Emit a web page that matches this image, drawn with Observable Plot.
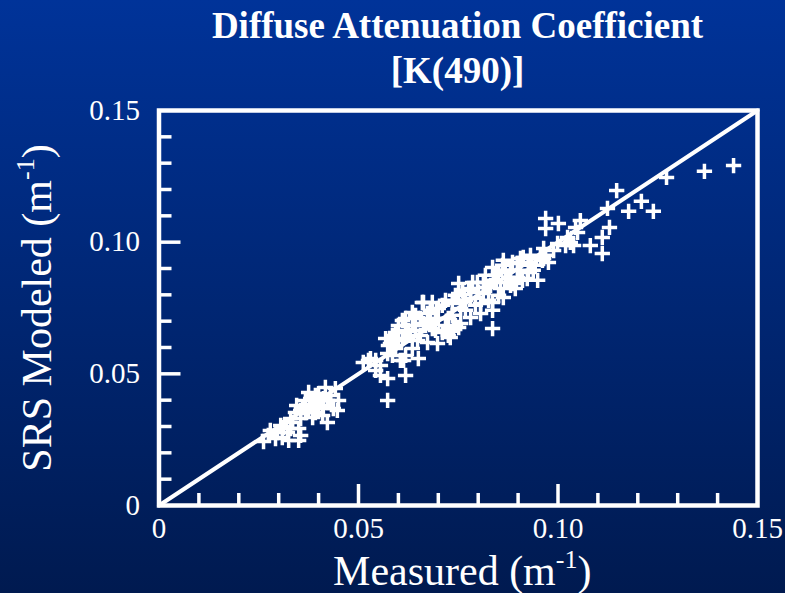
<!DOCTYPE html>
<html><head><meta charset="utf-8">
<script src="https://cdn.jsdelivr.net/npm/d3@7"></script>
<script src="https://cdn.jsdelivr.net/npm/@observablehq/plot@0.6"></script>
<style>
html,body{margin:0;padding:0;width:785px;height:593px;overflow:hidden;background:linear-gradient(#003399,#001a50);}
#title{height:95px;box-sizing:border-box;padding-top:3px;padding-left:130px;text-align:center;color:white;font:bold 37px/45px "Liberation Serif","Times New Roman",serif;}
#chart svg{display:block;}
</style></head>
<body><div id="title">Diffuse Attenuation Coefficient<br>[K(490)]</div><div id="chart"></div>
<script>
const measured = [
0.0262,0.0274,0.0292,0.0297,0.0312,0.0322,0.0325,0.0335,0.0342,0.0350,
0.0350,0.0355,0.0355,0.0360,0.0367,0.0375,0.0385,0.0387,0.0392,0.0400,
0.0410,0.0412,0.0417,0.0422,0.0422,0.0437,0.0442,0.0380,0.0400,0.0367,
0.0309,0.0330,0.0405,0.0430,0.0345,0.0392,0.0447,0.0412,
0.0512,0.0525,0.0543,0.0543,0.0555,0.0555,0.0573,0.0573,0.0573,0.0575,
0.0568,0.0580,0.0593,0.0600,0.0605,0.0610,0.0610,0.0613,0.0618,0.0618,
0.0618,0.0618,0.0635,0.0635,0.0648,0.0650,0.0660,0.0668,0.0673,0.0673,
0.0685,0.0685,0.0693,0.0698,0.0700,0.0710,0.0710,0.0718,0.0725,0.0725,
0.0730,0.0735,0.0735,0.0738,0.0743,0.0751,0.0756,0.0756,0.0663,0.0663,
0.0630,0.0593,0.0643,0.0655,0.0680,0.0700,0.0585,0.0530,0.0635,
0.0776,0.0781,0.0781,0.0786,0.0798,0.0806,0.0813,0.0813,0.0836,0.0836,
0.0836,0.0836,0.0843,0.0838,0.0856,0.0861,0.0863,0.0863,0.0876,0.0881,
0.0888,0.0893,0.0898,0.0898,0.0911,0.0913,0.0923,0.0926,0.0926,0.0931,
0.0943,0.0949,0.0956,0.0964,0.0751,0.0751,0.0763,0.0793,0.0768,0.0823,
0.0801,0.0851,0.0868,0.0886,0.0906,0.0851,0.0826,0.0806,
0.0969,0.0961,0.0964,0.0969,0.0969,0.1001,0.1019,0.1024,0.1039,0.1044,
0.1049,0.1056,0.1031,0.1081,0.1111,0.1111,0.1124,0.1129,0.1147,0.1177,
0.1209,0.1239,0.1272,0.1367,0.1440,0.0999,
0.0718,0.0743,0.0761,0.0768,0.0680,0.0643,0.0625,0.0600,0.0585,0.0655,
0.0693,0.0781,0.0818,0.0831,0.0868,0.0906,0.0931,0.0938,0.0881,0.0430,
0.0392,0.0375,0.0355,0.0330,0.0305,0.0279,0.0450,0.0976,0.0989
];
const modeled = [
0.0243,0.0266,0.0254,0.0277,0.0296,0.0277,0.0247,0.0315,0.0353,0.0292,
0.0247,0.0330,0.0266,0.0372,0.0399,0.0429,0.0334,0.0368,0.0391,0.0425,
0.0342,0.0368,0.0448,0.0399,0.0315,0.0368,0.0444,0.0406,0.0380,0.0353,
0.0258,0.0292,0.0399,0.0418,0.0380,0.0353,0.0361,0.0406,
0.0543,0.0551,0.0551,0.0513,0.0532,0.0494,0.0482,0.0399,0.0577,0.0608,
0.0634,0.0615,0.0596,0.0684,0.0551,0.0703,0.0634,0.0551,0.0570,0.0494,
0.0710,0.0665,0.0684,0.0596,0.0627,0.0558,0.0771,0.0684,0.0729,0.0619,
0.0771,0.0672,0.0710,0.0615,0.0710,0.0760,0.0657,0.0684,0.0710,0.0646,
0.0638,0.0767,0.0722,0.0672,0.0684,0.0676,0.0748,0.0691,0.0771,0.0691,
0.0646,0.0657,0.0665,0.0710,0.0741,0.0748,0.0570,0.0558,0.0733,
0.0824,0.0786,0.0714,0.0847,0.0847,0.0729,0.0805,0.0847,0.0904,0.0771,
0.0741,0.0672,0.0874,0.0855,0.0824,0.0912,0.0790,0.0931,0.0866,0.0893,
0.0843,0.0824,0.0919,0.0866,0.0855,0.0942,0.0862,0.0912,0.0885,0.0950,
0.0912,0.0855,0.0942,0.0938,0.0843,0.0805,0.0779,0.0760,0.0741,0.0828,
0.0809,0.0885,0.0847,0.0923,0.0893,0.0798,0.0779,0.0767,
0.0950,0.0931,0.0976,0.1090,0.1052,0.1071,0.0987,0.1018,0.0987,0.1056,
0.1037,0.1082,0.0999,0.0987,0.1018,0.0957,0.1128,0.1056,0.1196,0.1117,
0.1155,0.1117,0.1246,0.1269,0.1291,0.0995,
0.0779,0.0798,0.0817,0.0779,0.0703,0.0722,0.0665,0.0627,0.0646,0.0646,
0.0665,0.0817,0.0874,0.0836,0.0893,0.0938,0.0923,0.0893,0.0836,0.0399,
0.0418,0.0361,0.0361,0.0330,0.0304,0.0285,0.0399,0.0923,0.0968
];
const diagonal = [0, 0.15];
const minorTicks = [0.01,0.02,0.03,0.04,0.06,0.07,0.08,0.09,0.11,0.12,0.13,0.14];
const majorTicks = [0.05, 0.10];
const labelTicks = [0, 0.05, 0.10, 0.15];
const tickLabels = ["0", "0.05", "0.10", "0.15"];
const xTitle = ["Measured (m", "-1", ")"];
const yTitle = ["SRS Modeled (m", "-1", ")"];

const points = measured.map((m, i) => ({measured: m, modeled: modeled[i]}));
const tickStyle = {stroke: "white", strokeWidth: 3.5, fill: "none", label: null};
const fmt = d => tickLabels[labelTicks.indexOf(d)];

const plot = Plot.plot({
  width: 785, height: 498,
  marginLeft: 158.5, marginRight: 28, marginTop: 15, marginBottom: 88,
  style: {background: "transparent", color: "white", fontFamily: '"Liberation Serif", "Times New Roman", serif', overflow: "visible"},
  x: {domain: [0, 0.15]},
  y: {domain: [0, 0.15]},
  marks: [
    Plot.axisX(minorTicks, {anchor: "bottom", tickSize: -12, ...tickStyle}),
    Plot.axisX(majorTicks, {anchor: "bottom", tickSize: -21, ...tickStyle}),
    Plot.axisY(minorTicks, {anchor: "left", tickSize: -13, ...tickStyle}),
    Plot.axisY(majorTicks, {anchor: "left", tickSize: -22, ...tickStyle}),
    Plot.axisX(labelTicks, {anchor: "bottom", tickSize: 0, tickPadding: 12, fill: "white", fontSize: 29, tickFormat: fmt, label: null}),
    Plot.axisY(labelTicks, {anchor: "left", tickSize: 0, tickPadding: 19, fill: "white", fontSize: 29, tickFormat: fmt, label: null}),
    Plot.line(diagonal.map(v => ({v})), {x: "v", y: "v", stroke: "white", strokeWidth: 4}),
    Plot.frame({stroke: "white", strokeWidth: 4.5}),
    Plot.dot(points, {x: "measured", y: "modeled", symbol: "plus", r: 5, stroke: "white", strokeWidth: 3.5}),
    Plot.text([xTitle.join("")], {text: d => d, frameAnchor: "bottom", textAnchor: "middle", lineAnchor: "bottom", dy: 79, dx: 4, fill: "white", fontSize: 42}),
    Plot.text([yTitle.join("")], {text: d => d, frameAnchor: "left", textAnchor: "middle", lineAnchor: "bottom", rotate: -90, dx: -108.5, fill: "white", fontSize: 42})
  ]
});

d3.select(plot).selectAll("text").each(function() {
  const t = this.textContent;
  for (const parts of [xTitle, yTitle]) {
    if (t === parts.join("")) {
      const sel = d3.select(this);
      sel.text(null);
      sel.append("tspan").text(parts[0]);
      sel.append("tspan").attr("dy", -17).attr("font-size", 26).text(parts[1]);
      sel.append("tspan").attr("dy", 17).text(parts[2]);
    }
  }
});

document.getElementById("chart").appendChild(plot);
</script></body></html>
